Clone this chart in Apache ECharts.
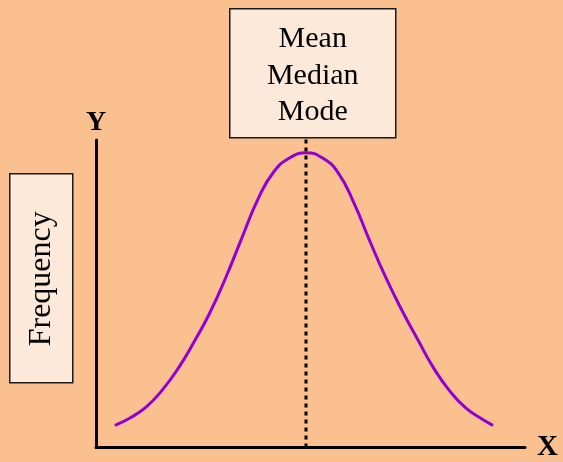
<!DOCTYPE html>
<html>
<head>
<meta charset="utf-8">
<script src="https://cdn.jsdelivr.net/npm/echarts@6/dist/echarts.min.js"></script>
<style>
  html, body { margin: 0; padding: 0; background: #FAC090; }
  #chart { width: 563px; height: 462px; }
</style>
</head>
<body>
<div id="chart"></div>
<script>
// Symmetric bell-shaped frequency curve (x = score, y = frequency)
const scores = [20, 34, 50, 66, 82, 98, 114, 130, 146, 162, 178, 194, 210,
                226, 242, 258, 274, 290, 306, 322, 338, 354, 370, 386, 396];
const frequency = [23, 30, 41, 58, 80, 107, 137, 173, 213, 252, 280, 294, 299,
                   294, 279, 248, 209, 172, 139, 109, 80, 57, 40, 29, 23];
// Centre of the distribution, where mean, median and mode coincide
const centre = 210;
const centreLineTop = 315;
const axisNames = ['X', 'Y'];
const centreLabel = ['Mean', 'Median', 'Mode'];
const yTitle = 'Frequency';

const curve = scores.map((s, i) => [s, frequency[i]]);

const chart = echarts.init(document.getElementById('chart'), null, { renderer: 'canvas' });
const serif = '"Liberation Serif", "Times New Roman", serif';

chart.setOption({
  backgroundColor: '#FAC090',
  animation: false,
  grid: { left: 96, right: 38, top: 140, bottom: 10 },
  xAxis: {
    type: 'value', min: 0, max: 429,
    name: axisNames[0], nameLocation: 'end', nameGap: 12,
    nameTextStyle: { fontFamily: serif, fontWeight: 'bold', fontSize: 29, color: '#000', padding: [0, 0, 2, 0] },
    axisLine: { show: true, lineStyle: { color: '#000', width: 3 } },
    axisTick: { show: false }, axisLabel: { show: false }, splitLine: { show: false }
  },
  yAxis: {
    type: 'value', min: 0, max: 312,
    name: axisNames[1], nameLocation: 'end', nameGap: 3,
    nameTextStyle: { fontFamily: serif, fontWeight: 'bold', fontSize: 28, color: '#000', align: 'center' },
    axisLine: { show: true, lineStyle: { color: '#000', width: 3 } },
    axisTick: { show: false }, axisLabel: { show: false }, splitLine: { show: false }
  },
  series: [
    {
      type: 'line',
      data: [[centre, 0], [centre, centreLineTop]],
      clip: false,
      symbol: 'none',
      lineStyle: { color: '#000', width: 3, type: [4, 4] },
      z: 1
    },
    {
      type: 'line',
      data: curve,
      smooth: 0.5,
      symbol: 'none',
      lineStyle: { color: '#9000D0', width: 3, cap: 'round' },
      z: 2
    }
  ],
  graphic: [
    {
      type: 'group', left: 229, top: 8,
      children: [
        { type: 'rect', shape: { x: 0, y: 0, width: 166, height: 129 },
          style: { fill: '#FDE9D9', stroke: '#1a1a1a', lineWidth: 1.5 } },
        { type: 'text', x: 83, y: 67,
          style: { text: centreLabel.join('\n'), font: '30px ' + serif, fill: '#000',
                   align: 'center', verticalAlign: 'middle', lineHeight: 36.5 } }
      ]
    },
    {
      type: 'group', left: 9, top: 173,
      children: [
        { type: 'rect', shape: { x: 0, y: 0, width: 63, height: 209 },
          style: { fill: '#FDE9D9', stroke: '#1a1a1a', lineWidth: 1.5 } },
        { type: 'text', x: 32, y: 105, rotation: Math.PI / 2,
          style: { text: yTitle, font: '32px ' + serif, fill: '#000',
                   align: 'center', verticalAlign: 'middle' } }
      ]
    }
  ]
});
</script>
</body>
</html>
